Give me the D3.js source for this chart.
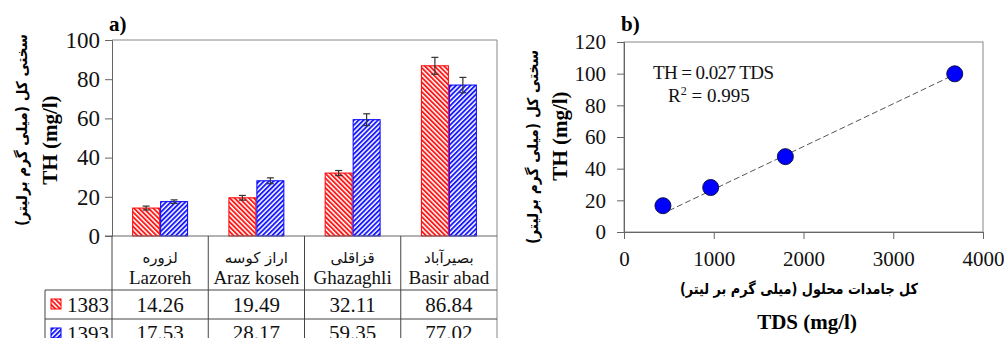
<!DOCTYPE html>
<html>
<head>
<meta charset="utf-8">
<script src="https://cdn.jsdelivr.net/npm/d3@7"></script>
<style>
  body { margin: 0; background: #fff; }
  svg { display: block; }
</style>
</head>
<body>
<svg id="chart" width="1004" height="338"></svg>
<script>
// ---- data ----
const sitesFa = ["لزوره", "اراز کوسه", "قزاقلی", "بصیرآباد"];
const sitesEn = ["Lazoreh", "Araz koseh", "Ghazaghli", "Basir abad"];
const years = ["1383", "1393"];
const th1383 = [14.26, 19.49, 32.11, 86.84];
const th1393 = [17.53, 28.17, 59.35, 77.02];
const err1383 = [1.0, 1.2, 1.3, 4.3];
const err1393 = [0.9, 1.5, 3.0, 3.9];
const yTicksA = [0, 20, 40, 60, 80, 100];

const tds = [434, 966, 1798, 3685];
const thMean = [16.6, 28.1, 47.6, 99.9];
const trendTds = [500, 3690];
const trendTh = [13.5, 99.6];
const xTicksB = [0, 1000, 2000, 3000, 4000];
const yTicksB = [0, 20, 40, 60, 80, 100, 120];

const SERIF = "'Liberation Serif', 'DejaVu Serif', serif";
const FA = "'DejaVu Sans', sans-serif";
const svg = d3.select("#chart");
const gridColor = "#444";

// hatch patterns
const defs = svg.append("defs");
function hatch(id, color, angle) {
  const p = defs.append("pattern")
    .attr("id", id)
    .attr("patternUnits", "userSpaceOnUse")
    .attr("width", 3.4).attr("height", 3.4)
    .attr("patternTransform", `rotate(${angle})`);
  p.append("rect").attr("width", 3.4).attr("height", 3.4).attr("fill", "#fff");
  p.append("rect").attr("width", 1.9).attr("height", 3.4).attr("fill", color);
}
hatch("hRed", "#ff1a1a", -45);
hatch("hBlue", "#1a1aff", 45);
const fills = ["url(#hRed)", "url(#hBlue)"];
const strokes = ["#ff0000", "#0000ff"];

function styleAxis(g, size) {
  g.attr("font-family", SERIF);
  g.select(".domain").attr("stroke", "#666");
  g.selectAll(".tick line").attr("stroke", "#666");
  g.selectAll("text").attr("font-family", SERIF).attr("font-size", size).attr("fill", "#111");
}

// ================= panel a =================
const A = { left: 112, right: 497, top: 40, bottom: 236 };
const x0 = d3.scaleBand().domain(sitesEn).range([A.left, A.right]);
const x1 = d3.scaleBand().domain(years).range([0, x0.bandwidth()]).paddingOuter(0.72);
const yA = d3.scaleLinear().domain([0, 100]).range([A.bottom, A.top]);

const gA = svg.append("g").attr("font-family", SERIF);

// frame top + right
gA.append("path")
  .attr("d", `M${A.left},${A.top}H${A.right}V338`)
  .attr("fill", "none").attr("stroke", "#888");

// y axis
gA.append("g")
  .attr("transform", `translate(${A.left},0)`)
  .call(d3.axisLeft(yA).tickValues(yTicksA).tickSize(7).tickPadding(5))
  .call(g => styleAxis(g, 23));

// bars
const rows = sitesEn.map((s, i) => ({
  site: s,
  vals: [
    { year: years[0], v: th1383[i], e: err1383[i], k: 0 },
    { year: years[1], v: th1393[i], e: err1393[i], k: 1 }
  ]
}));
const grp = gA.selectAll("g.site").data(rows).join("g")
  .attr("class", "site")
  .attr("transform", d => `translate(${x0(d.site)},0)`);
grp.selectAll("rect").data(d => d.vals).join("rect")
  .attr("x", d => x1(d.year) + 0.5)
  .attr("width", x1.bandwidth() - 1)
  .attr("y", d => yA(d.v))
  .attr("height", d => yA(0) - yA(d.v))
  .attr("fill", d => fills[d.k])
  .attr("stroke", d => strokes[d.k]);
// error bars
const eb = grp.selectAll("g.err").data(d => d.vals).join("g").attr("class", "err")
  .attr("stroke", "#333").attr("stroke-width", 1.2);
eb.append("line")
  .attr("x1", d => x1(d.year) + x1.bandwidth() / 2)
  .attr("x2", d => x1(d.year) + x1.bandwidth() / 2)
  .attr("y1", d => yA(d.v + d.e)).attr("y2", d => yA(d.v - d.e));
["+", "-"].forEach(sg => {
  eb.append("line")
    .attr("x1", d => x1(d.year) + x1.bandwidth() / 2 - 3.5)
    .attr("x2", d => x1(d.year) + x1.bandwidth() / 2 + 3.5)
    .attr("y1", d => yA(sg === "+" ? d.v + d.e : d.v - d.e))
    .attr("y2", d => yA(sg === "+" ? d.v + d.e : d.v - d.e));
});

// data table below
const rowY = [A.bottom, 290, 319, 348];
const legL = 45;
const tbl = gA.append("g").attr("stroke", gridColor).attr("fill", "none");
tbl.append("line").attr("x1", A.left - 7).attr("x2", A.right).attr("y1", rowY[0]).attr("y2", rowY[0]).attr("stroke", "#666");
[rowY[1], rowY[2]].forEach(y =>
  tbl.append("line").attr("x1", legL).attr("x2", A.right).attr("y1", y).attr("y2", y));
sitesEn.forEach(s =>
  tbl.append("line").attr("x1", x0(s)).attr("x2", x0(s)).attr("y1", rowY[0]).attr("y2", 338));
tbl.append("line").attr("x1", legL).attr("x2", legL).attr("y1", rowY[1]).attr("y2", 338);

const cellX = s => x0(s) + x0.bandwidth() / 2;
gA.selectAll("text.fa-site").data(sitesEn).join("text")
  .attr("class", "fa-site")
  .attr("font-family", FA)
  .attr("x", cellX).attr("y", 263)
  .attr("text-anchor", "middle").attr("font-size", 15).attr("fill", "#111")
  .text((d, i) => sitesFa[i]);
gA.selectAll("text.en-site").data(sitesEn).join("text")
  .attr("class", "en-site")
  .attr("x", cellX).attr("y", 284)
  .attr("text-anchor", "middle").attr("font-size", 19).attr("fill", "#111")
  .text(d => d);
[th1383, th1393].forEach((vals, k) => {
  gA.selectAll(`text.val${k}`).data(sitesEn).join("text")
    .attr("class", `val${k}`)
    .attr("x", cellX).attr("y", [312, 340][k])
    .attr("text-anchor", "middle").attr("font-size", 21).attr("fill", "#111")
    .text((d, i) => vals[i].toFixed(2));
  const ly = rowY[k + 1];
  gA.append("rect").attr("x", 51).attr("y", ly + 9).attr("width", 10).attr("height", 10)
    .attr("fill", fills[k]).attr("stroke", strokes[k]);
  gA.append("text").attr("x", 67).attr("y", ly + 22)
    .attr("font-size", 21).attr("fill", "#111").text(years[k]);
});

// labels
gA.append("text").attr("x", 109).attr("y", 31)
  .attr("font-size", 21).attr("font-weight", "bold").text("a)");
gA.append("text")
  .attr("transform", "translate(57,140) rotate(-90)")
  .attr("text-anchor", "middle").attr("font-size", 21).attr("font-weight", "bold")
  .text("TH (mg/l)");
gA.append("text").attr("font-family", FA)
  .attr("transform", "translate(27,130) rotate(-90)")
  .attr("text-anchor", "middle").attr("font-size", 15).attr("font-weight", "bold")
  .attr("textLength", 192).attr("lengthAdjust", "spacingAndGlyphs")
  .text("سختی کل (میلی گرم برلیتر)");

// ================= panel b =================
const B = { left: 624, right: 983, top: 42, bottom: 232 };
const xB = d3.scaleLinear().domain([0, 4000]).range([B.left, B.right]);
const yB = d3.scaleLinear().domain([0, 120]).range([B.bottom, B.top]);
const gB = svg.append("g").attr("font-family", SERIF);

gB.append("rect").attr("x", B.left).attr("y", B.top)
  .attr("width", B.right - B.left).attr("height", B.bottom - B.top)
  .attr("fill", "none").attr("stroke", "#888");

gB.append("g").attr("transform", `translate(${B.left},0)`)
  .call(d3.axisLeft(yB).tickValues(yTicksB).tickSize(7).tickPadding(11))
  .call(g => styleAxis(g, 21));
gB.append("g").attr("transform", `translate(0,${B.bottom})`)
  .call(d3.axisBottom(xB).tickValues(xTicksB).tickFormat(d3.format("d")).tickSize(7).tickPadding(12))
  .call(g => styleAxis(g, 21));

// trend line
gB.append("path")
  .datum(trendTds.map((t, i) => [t, trendTh[i]]))
  .attr("d", d3.line().x(d => xB(d[0])).y(d => yB(d[1])))
  .attr("fill", "none").attr("stroke", "#555").attr("stroke-width", 1)
  .attr("stroke-dasharray", "6,3");

gB.selectAll("circle").data(tds).join("circle")
  .attr("cx", d => xB(d)).attr("cy", (d, i) => yB(thMean[i]))
  .attr("r", 8).attr("fill", "#0000ff").attr("stroke", "#111148").attr("stroke-width", 1);

gB.append("text").attr("x", 653).attr("y", 79)
  .attr("font-size", 19).attr("fill", "#111")
  .attr("textLength", 121).attr("lengthAdjust", "spacing")
  .text("TH = 0.027 TDS");
const r2 = gB.append("text").attr("x", 668).attr("y", 102)
  .attr("font-size", 19).attr("fill", "#111");
r2.append("tspan").text("R");
r2.append("tspan").attr("dy", -7).attr("font-size", 12).text("2");
r2.append("tspan").attr("dy", 7).text(" = 0.995");

gB.append("text").attr("x", 621).attr("y", 31)
  .attr("font-size", 21).attr("font-weight", "bold").text("b)");
gB.append("text")
  .attr("transform", "translate(567,136) rotate(-90)")
  .attr("text-anchor", "middle").attr("font-size", 21).attr("font-weight", "bold")
  .text("TH (mg/l)");
gB.append("text").attr("font-family", FA)
  .attr("transform", "translate(538,147) rotate(-90)")
  .attr("text-anchor", "middle").attr("font-size", 15).attr("font-weight", "bold")
  .attr("textLength", 194).attr("lengthAdjust", "spacingAndGlyphs")
  .text("سختی کل (میلی گرم برلیتر)");
gB.append("text").attr("font-family", FA)
  .attr("x", 799).attr("y", 294)
  .attr("text-anchor", "middle").attr("font-size", 15).attr("font-weight", "bold")
  .attr("textLength", 238).attr("lengthAdjust", "spacingAndGlyphs")
  .text("کل جامدات محلول (میلی گرم بر لیتر)");
gB.append("text")
  .attr("x", 807).attr("y", 329)
  .attr("text-anchor", "middle").attr("font-size", 21).attr("font-weight", "bold")
  .text("TDS (mg/l)");
</script>
</body>
</html>
